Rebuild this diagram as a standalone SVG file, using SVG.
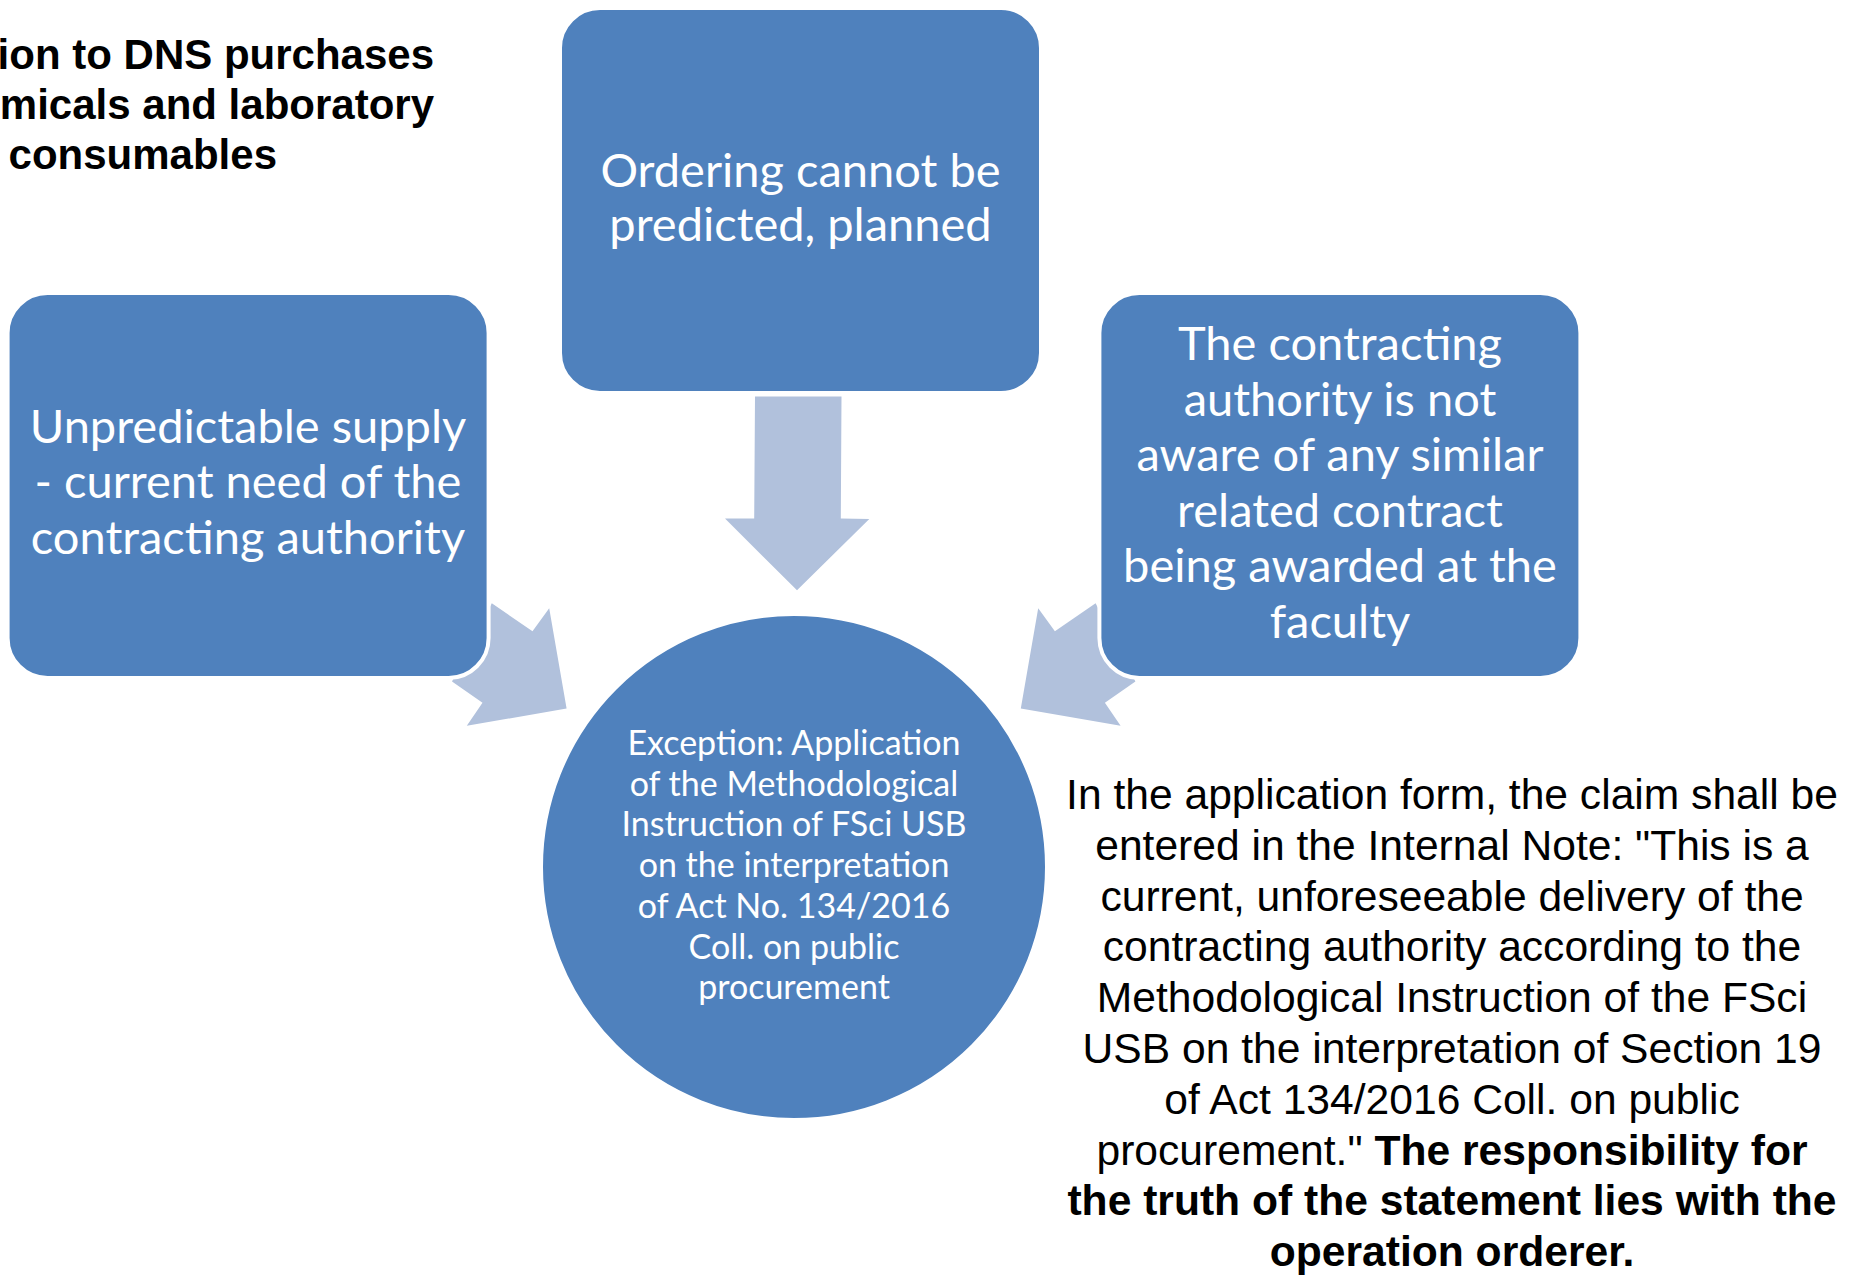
<svg xmlns="http://www.w3.org/2000/svg" width="1861" height="1275" viewBox="0 0 1861 1275">
  <style>
    .box { fill: #4F81BD; stroke: #FFFFFF; stroke-width: 4; }
    .arrow { fill: #B1C1DC; stroke: none; }
    .boxtext { font-family: Lato, "Open Sans", sans-serif; font-size: 47px; fill: #FFFFFF; text-anchor: middle; }
    .circtext { font-family: Lato, "Open Sans", sans-serif; font-size: 34px; fill: #FFFFFF; text-anchor: middle; }
    .title { font-family: "Liberation Sans", Arial, sans-serif; font-size: 42px; font-weight: bold; fill: #000000; text-anchor: end; }
    .note { font-family: "Liberation Sans", Arial, sans-serif; font-size: 42.6px; fill: #000000; text-anchor: middle; }
    .b { font-weight: bold; }
  </style>

  <rect width="1861" height="1275" fill="#FFFFFF"/>

  <!-- heading, partly outside the left edge -->
  <g id="heading">
    <text class="title" x="434" y="69">ion to DNS purchases</text>
    <text class="title" x="434" y="119">micals and laboratory</text>
    <text class="title" x="277" y="169">consumables</text>
  </g>

  <!-- block arrows pointing at the central circle -->
  <g id="connectors">
    <polygon class="arrow" points="452,681.5 491.8,603.3 532.5,631.3 549.2,608.3 566.6,708.5 466.8,725.8 482.5,702.7"/>
    <polygon class="arrow" points="1135.4,681.5 1095.6,603.3 1054.9,631.3 1038.2,608.3 1020.8,708.5 1120.6,725.8 1104.9,702.7"/>
    <polygon class="arrow" points="755,396.6 841.5,396.6 840.8,518.5 869.3,519 797,590.3 725,518.5 754.2,518.5"/>
  </g>

  <g id="node-unpredictable">
    <rect class="box" x="7.6" y="293" width="481" height="385" rx="40" ry="40"/>
    <text class="boxtext" x="248" y="442.5">Unpredictable supply</text>
    <text class="boxtext" x="248" y="498">- current need of the</text>
    <text class="boxtext" x="248" y="553.5">contracting authority</text>
  </g>

  <g id="node-ordering">
    <rect class="box" x="560" y="8" width="481" height="385" rx="40" ry="40"/>
    <text class="boxtext" x="800.5" y="186.6">Ordering cannot be</text>
    <text class="boxtext" x="800.5" y="241.2">predicted, planned</text>
  </g>

  <g id="node-contract">
    <rect class="box" x="1099.4" y="293" width="481" height="385" rx="40" ry="40"/>
    <text class="boxtext" x="1340" y="360">The contracting</text>
    <text class="boxtext" x="1340" y="415.5">authority is not</text>
    <text class="boxtext" x="1340" y="471">aware of any similar</text>
    <text class="boxtext" x="1340" y="526.5">related contract</text>
    <text class="boxtext" x="1340" y="582">being awarded at the</text>
    <text class="boxtext" x="1340" y="637.5">faculty</text>
  </g>

  <g id="node-exception">
    <circle class="box" cx="794" cy="867" r="253"/>
    <text class="circtext" x="794" y="755">Exception: Application</text>
    <text class="circtext" x="794" y="795.7">of the Methodological</text>
    <text class="circtext" x="794" y="836.4">Instruction of FSci USB</text>
    <text class="circtext" x="794" y="877.1">on the interpretation</text>
    <text class="circtext" x="794" y="917.8">of Act No. 134/2016</text>
    <text class="circtext" x="794" y="958.5">Coll. on public</text>
    <text class="circtext" x="794" y="999.2">procurement</text>
  </g>

  <g id="note">
    <text class="note" x="1452" y="809">In the application form, the claim shall be</text>
    <text class="note" x="1452" y="859.8">entered in the Internal Note: "This is a</text>
    <text class="note" x="1452" y="910.6">current, unforeseeable delivery of the</text>
    <text class="note" x="1452" y="961.4">contracting authority according to the</text>
    <text class="note" x="1452" y="1012.2">Methodological Instruction of the FSci</text>
    <text class="note" x="1452" y="1063">USB on the interpretation of Section 19</text>
    <text class="note" x="1452" y="1113.8">of Act 134/2016 Coll. on public</text>
    <text class="note" x="1452" y="1164.6">procurement." <tspan class="b">The responsibility for</tspan></text>
    <text class="note b" x="1452" y="1215.4">the truth of the statement lies with the</text>
    <text class="note b" x="1452" y="1266.2">operation orderer.</text>
  </g>
</svg>
